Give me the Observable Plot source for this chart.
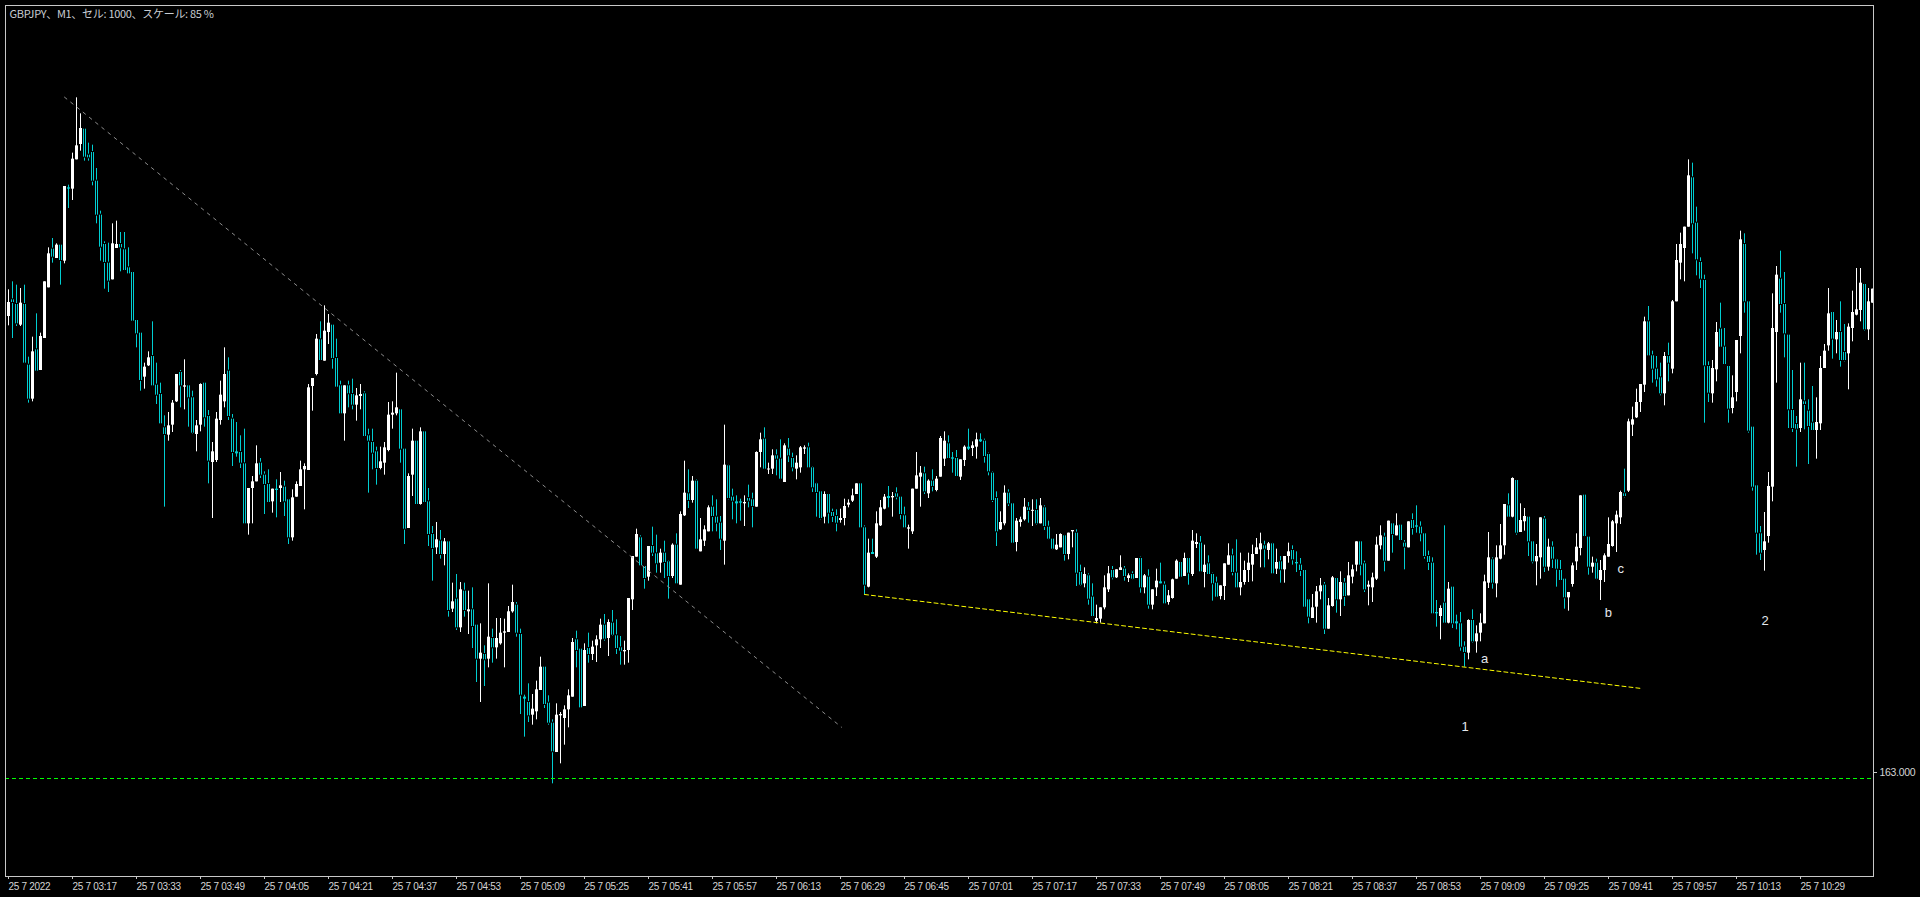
<!DOCTYPE html>
<html><head><meta charset="utf-8">
<script src="https://cdn.jsdelivr.net/npm/d3@7"></script>
<script src="https://cdn.jsdelivr.net/npm/@observablehq/plot@0.6"></script>
<style>
html,body{margin:0;padding:0;background:#000;overflow:hidden}
svg text{letter-spacing:-0.3px}
</style>
</head><body><div id="chart"></div>
<script>
// ---- M1 candles, GBPJPY, 25 Jul 2022 from 03:01 (one bar per minute) ----
const openP = [
163.693,163.718,163.711,163.680,163.711,163.620,163.569,163.643,163.612,163.660,
163.736,163.794,163.780,163.800,163.776,163.886,163.884,163.928,163.951,163.974,
163.935,163.939,163.896,163.845,163.801,163.773,163.748,163.795,163.801,163.793,
163.766,163.759,163.687,163.668,163.602,163.619,163.633,163.590,163.576,163.526,
163.515,163.530,163.565,163.609,163.587,163.589,163.571,163.516,163.530,163.593,
163.543,163.474,163.477,163.537,163.565,163.611,163.539,163.490,163.489,163.472,
163.382,163.435,163.445,163.473,163.455,163.441,163.415,163.434,163.435,163.437,
163.418,163.361,163.422,163.438,163.463,163.462,163.588,163.606,163.658,163.626,
163.669,163.680,163.630,163.589,163.547,163.589,163.576,163.560,163.573,163.577,
163.514,163.504,163.490,163.465,163.473,163.492,163.545,163.547,163.553,163.494,
163.375,163.455,163.506,163.411,163.520,163.415,163.366,163.346,163.356,163.336,
163.355,163.254,163.269,163.226,163.281,163.250,163.253,163.230,163.179,163.186,
163.179,163.210,163.196,163.202,163.218,163.219,163.250,163.260,163.216,163.122,
163.114,163.095,163.100,163.132,163.167,163.113,163.083,163.039,163.094,163.090,
163.103,163.122,163.208,163.194,163.108,163.195,163.186,163.199,163.208,163.230,
163.210,163.233,163.214,163.196,163.190,163.192,163.268,163.332,163.361,163.318,
163.302,163.348,163.337,163.323,163.338,163.325,163.303,163.350,163.290,163.394,
163.427,163.417,163.446,163.340,163.356,163.370,163.407,163.392,163.383,163.356,
163.469,163.422,163.415,163.415,163.412,163.420,163.418,163.407,163.489,163.509,
163.463,163.464,163.484,163.479,163.444,163.494,163.480,163.464,163.466,163.494,
163.496,163.466,163.442,163.430,163.392,163.426,163.399,163.393,163.387,163.390,
163.410,163.416,163.426,163.442,163.376,163.287,163.339,163.332,163.379,163.404,
163.423,163.421,163.427,163.422,163.394,163.374,163.370,163.434,163.452,163.457,
163.427,163.446,163.432,163.452,163.479,163.502,163.481,163.480,163.452,163.477,
163.497,163.495,163.497,163.508,163.506,163.486,163.458,163.420,163.373,163.382,
163.428,163.412,163.354,163.384,163.388,163.406,163.401,163.402,163.382,163.406,
163.377,163.359,163.343,163.346,163.364,163.336,163.370,163.368,163.309,163.292,
163.304,163.272,163.236,163.239,163.256,163.283,163.312,163.301,163.312,163.314,
163.300,163.306,163.300,163.330,163.286,163.302,163.260,163.286,163.295,163.290,
163.264,163.270,163.299,163.324,163.303,163.330,163.306,163.351,163.353,163.309,
163.322,163.306,163.293,163.273,163.288,163.320,163.334,163.308,163.286,163.294,
163.312,163.320,163.336,163.343,163.349,163.342,163.352,163.314,163.325,163.313,
163.333,163.342,163.324,163.320,163.312,163.268,163.240,163.257,163.280,163.290,
163.224,163.258,163.300,163.268,163.293,163.274,163.302,163.320,163.355,163.322,
163.287,163.286,163.299,163.349,163.362,163.326,163.382,163.364,163.380,163.353,
163.346,163.387,163.379,163.377,163.367,163.333,163.323,163.249,163.243,163.263,
163.233,163.287,163.235,163.232,163.197,163.188,163.237,163.205,163.218,163.232,
163.293,163.328,163.292,163.329,163.349,163.409,163.392,163.447,163.369,163.385,
163.392,163.355,163.325,163.331,163.389,163.317,163.347,163.328,163.312,163.299,
163.271,163.291,163.325,163.345,163.425,163.362,163.317,163.323,163.297,163.312,
163.332,163.348,163.382,163.391,163.427,163.431,163.530,163.541,163.564,163.590,
163.685,163.634,163.614,163.601,163.577,163.633,163.614,163.715,163.773,163.795,
163.827,163.901,163.833,163.774,163.747,163.618,163.577,163.613,163.674,163.647,
163.618,163.555,163.579,163.663,163.801,163.715,163.527,163.439,163.367,163.342,
163.363,163.437,163.669,163.749,163.711,163.665,163.552,163.531,163.525,163.565,
163.551,163.533,163.522,163.532,163.615,163.649,163.699,163.658,163.669,163.639,
163.637,163.675,163.695,163.702,163.741,163.673,163.713];

const highP = [
163.733,163.745,163.740,163.735,163.740,163.632,163.662,163.697,163.668,163.745,
163.796,163.810,163.802,163.800,163.888,163.890,163.938,164.021,163.997,163.974,
163.953,163.950,163.915,163.851,163.805,163.803,163.832,163.836,163.819,163.819,
163.796,163.759,163.687,163.668,163.623,163.640,163.685,163.623,163.593,163.544,
163.549,163.567,163.606,163.612,163.628,163.589,163.581,163.537,163.592,163.593,
163.552,163.504,163.549,163.596,163.646,163.631,163.546,163.534,163.514,163.524,
163.435,163.453,163.499,163.480,163.460,163.463,163.434,163.448,163.459,163.446,
163.418,163.433,163.445,163.476,163.472,163.591,163.600,163.666,163.685,163.709,
163.696,163.680,163.659,163.596,163.589,163.596,163.599,163.585,163.591,163.580,
163.524,163.524,163.497,163.497,163.504,163.564,163.565,163.608,163.553,163.494,
163.457,163.524,163.506,163.526,163.520,163.435,163.378,163.384,163.372,163.360,
163.355,163.293,163.306,163.294,163.293,163.281,163.286,163.230,163.232,163.199,
163.292,163.224,163.240,163.240,163.239,163.258,163.290,163.264,163.224,163.125,
163.142,163.126,163.146,163.182,163.167,163.124,163.088,163.112,163.099,163.109,
163.133,163.210,163.221,163.194,163.202,163.218,163.206,163.214,163.239,163.246,
163.238,163.252,163.238,163.213,163.206,163.270,163.333,163.374,163.364,163.318,
163.348,163.377,163.365,163.344,163.356,163.327,163.352,163.367,163.400,163.476,
163.463,163.453,163.448,163.390,163.379,163.409,163.424,163.418,163.393,163.530,
163.470,163.434,163.424,163.419,163.424,163.440,163.428,163.490,163.518,163.526,
163.473,163.493,163.493,163.508,163.502,163.510,163.488,163.484,163.498,163.499,
163.503,163.468,163.443,163.430,163.430,163.426,163.404,163.403,163.404,163.419,
163.418,163.434,163.442,163.442,163.379,163.359,163.359,163.400,163.417,163.426,
163.438,163.429,163.436,163.422,163.407,163.380,163.434,163.489,163.468,163.467,
163.448,163.463,163.453,163.513,163.520,163.514,163.489,163.492,163.478,163.499,
163.524,163.505,163.518,163.517,163.509,163.488,163.460,163.430,163.400,163.439,
163.433,163.412,163.390,163.392,163.420,163.414,163.418,163.418,163.420,163.409,
163.386,163.360,163.366,163.367,163.364,163.368,163.372,163.373,163.320,163.316,
163.307,163.292,163.260,163.256,163.304,163.318,163.318,163.313,163.334,163.318,
163.307,163.310,163.330,163.332,163.306,163.313,163.283,163.314,163.323,163.295,
163.282,163.299,163.328,163.324,163.338,163.330,163.372,163.367,163.363,163.350,
163.334,163.308,163.302,163.289,163.322,163.352,163.344,163.358,163.338,163.326,
163.338,163.350,163.360,163.368,163.356,163.354,163.353,163.344,163.333,163.333,
163.353,163.349,163.340,163.330,163.312,163.268,163.276,163.288,163.300,163.294,
163.270,163.303,163.300,163.310,163.300,163.324,163.320,163.355,163.355,163.326,
163.296,163.308,163.362,163.379,163.368,163.386,163.382,163.397,163.380,163.357,
163.385,163.397,163.409,163.385,163.367,163.341,163.331,163.267,163.259,163.379,
163.294,163.287,163.245,163.249,163.205,163.238,163.253,163.229,163.247,163.305,
163.369,163.331,163.349,163.381,163.411,163.427,163.451,163.447,163.412,163.405,
163.392,163.355,163.351,163.391,163.393,163.359,163.355,163.329,163.327,163.299,
163.279,163.323,163.367,163.424,163.425,163.362,163.332,163.329,163.327,163.337,
163.391,163.387,163.401,163.431,163.464,163.539,163.557,163.584,163.591,163.692,
163.708,163.641,163.633,163.623,163.639,163.653,163.717,163.801,163.818,163.827,
163.928,163.923,163.857,163.781,163.755,163.625,163.627,163.684,163.713,163.675,
163.618,163.604,163.657,163.821,163.817,163.715,163.527,163.439,163.378,163.399,
163.459,163.727,163.768,163.791,163.759,163.665,163.612,163.543,163.623,163.623,
163.568,163.588,163.571,163.633,163.651,163.735,163.699,163.687,163.715,163.681,
163.682,163.731,163.765,163.765,163.741,163.735,163.734];

const lowP = [
163.679,163.660,163.678,163.678,163.623,163.563,163.565,163.611,163.612,163.660,
163.736,163.773,163.780,163.740,163.772,163.855,163.867,163.928,163.941,163.926,
163.926,163.889,163.832,163.776,163.734,163.729,163.748,163.795,163.760,163.762,
163.757,163.686,163.646,163.581,163.584,163.618,163.589,163.561,163.532,163.407,
163.506,163.519,163.564,163.556,163.553,163.527,163.516,163.490,163.520,163.527,
163.442,163.390,163.474,163.530,163.556,163.537,163.468,163.482,163.465,163.382,
163.365,163.382,163.445,163.450,163.396,163.413,163.398,163.391,163.414,163.393,
163.351,163.356,163.422,163.438,163.403,163.462,163.551,163.604,163.627,163.626,
163.651,163.614,163.587,163.547,163.506,163.556,163.553,163.536,163.553,163.513,
163.428,163.463,163.440,163.463,163.455,163.490,163.524,163.544,163.473,163.351,
163.375,163.423,163.411,163.410,163.414,163.348,163.296,163.336,163.329,163.319,
163.242,163.249,163.222,163.219,163.242,163.216,163.195,163.144,163.114,163.138,
163.166,163.173,163.179,163.200,163.166,163.219,163.248,163.212,163.096,163.062,
163.084,163.080,163.088,163.132,163.105,163.080,162.992,163.039,163.022,163.050,
163.076,163.122,163.166,163.106,163.108,163.173,163.177,163.174,163.195,163.206,
163.183,163.213,163.186,163.170,163.170,163.173,163.252,163.332,163.319,163.284,
163.296,163.333,163.308,163.308,163.300,163.269,163.300,163.292,163.290,163.393,
163.405,163.413,163.344,163.340,163.348,163.370,163.370,163.370,163.342,163.320,
163.418,163.388,163.382,163.386,163.378,163.406,163.376,163.407,163.466,163.464,
163.456,163.456,163.454,163.449,163.444,163.474,163.460,163.448,163.458,163.486,
163.466,163.429,163.392,163.388,163.382,163.382,163.384,163.370,163.383,163.379,
163.406,163.414,163.426,163.376,163.276,163.286,163.336,163.330,163.378,163.403,
163.406,163.392,163.418,163.388,163.376,163.344,163.366,163.434,163.407,163.426,
163.420,163.430,163.430,163.452,163.468,163.480,163.458,163.453,163.447,163.468,
163.492,163.483,163.479,163.504,163.473,163.454,163.414,163.348,163.372,163.379,
163.408,163.353,163.340,163.377,163.386,163.383,163.378,163.380,163.382,163.372,
163.358,163.343,163.342,163.346,163.326,163.328,163.346,163.288,163.288,163.286,
163.260,163.243,163.232,163.233,163.253,163.279,163.298,163.300,163.312,163.296,
163.294,163.298,163.300,163.278,163.277,163.254,163.253,163.273,163.292,163.262,
163.260,163.269,163.299,163.302,163.303,163.290,163.303,163.345,163.310,163.286,
163.306,163.266,163.272,163.268,163.267,163.320,163.304,163.286,163.274,163.290,
163.294,163.295,163.336,163.316,163.316,163.328,163.306,163.306,163.293,163.293,
163.323,163.320,163.309,163.303,163.257,163.232,163.240,163.233,163.268,163.216,
163.224,163.257,163.248,163.243,163.258,163.274,163.292,163.310,163.304,163.279,
163.259,163.264,163.297,163.343,163.310,163.326,163.338,163.364,163.357,163.313,
163.346,163.365,163.368,163.355,163.329,163.312,163.247,163.227,163.208,163.233,
163.232,163.225,163.223,163.191,163.167,163.178,163.203,163.188,163.205,163.232,
163.285,163.284,163.271,163.328,163.335,163.392,163.391,163.365,163.369,163.371,
163.333,163.322,163.289,163.299,163.309,163.311,163.315,163.287,163.297,163.254,
163.251,163.287,163.312,163.334,163.362,163.305,163.308,163.298,163.267,163.294,
163.332,163.347,163.339,163.381,163.421,163.429,163.513,163.540,163.549,163.579,
163.634,163.593,163.587,163.574,163.559,163.595,163.607,163.715,163.748,163.745,
163.827,163.787,163.754,163.735,163.533,163.564,163.563,163.595,163.647,163.621,
163.533,163.547,163.565,163.637,163.698,163.518,163.431,163.335,163.327,163.311,
163.353,163.415,163.593,163.698,163.631,163.525,163.519,163.467,163.519,163.523,
163.471,163.522,163.479,163.522,163.615,163.641,163.629,163.637,163.617,163.625,
163.583,163.655,163.694,163.685,163.671,163.657,163.713];

const closeP = [
163.714,163.714,163.682,163.713,163.623,163.569,163.640,163.611,163.663,163.745,
163.787,163.782,163.800,163.777,163.888,163.884,163.929,163.949,163.975,163.932,
163.931,163.896,163.845,163.797,163.774,163.746,163.802,163.801,163.796,163.762,
163.757,163.686,163.667,163.597,163.617,163.631,163.589,163.575,163.532,163.516,
163.529,163.563,163.606,163.589,163.589,163.571,163.518,163.529,163.591,163.541,
163.476,163.490,163.539,163.575,163.606,163.543,163.489,163.487,163.473,163.382,
163.435,163.445,163.472,163.455,163.441,163.414,163.434,163.432,163.439,163.415,
163.361,163.421,163.441,163.463,163.468,163.586,163.600,163.659,163.627,163.671,
163.683,163.630,163.587,163.547,163.589,163.577,163.560,163.574,163.576,163.513,
163.506,163.488,163.465,163.475,163.496,163.545,163.548,163.556,163.494,163.374,
163.453,163.506,163.411,163.520,163.414,163.366,163.345,163.358,163.336,163.355,
163.252,163.265,163.226,163.283,163.252,163.253,163.228,163.179,163.188,163.178,
163.212,163.196,163.210,163.218,163.220,163.250,163.264,163.218,163.125,163.119,
163.094,163.104,163.133,163.167,163.111,163.083,163.040,163.095,163.096,163.103,
163.124,163.204,163.192,163.106,163.192,163.186,163.197,163.208,163.230,163.209,
163.234,163.215,163.195,163.191,163.192,163.270,163.333,163.366,163.319,163.300,
163.348,163.338,163.322,163.338,163.324,163.303,163.350,163.292,163.396,163.428,
163.417,163.446,163.344,163.358,163.373,163.406,163.393,163.383,163.359,163.470,
163.420,163.416,163.412,163.413,163.414,163.416,163.408,163.489,163.508,163.464,
163.464,163.484,163.479,163.449,163.499,163.484,163.466,163.473,163.496,163.496,
163.466,163.436,163.429,163.390,163.426,163.398,163.393,163.383,163.390,163.408,
163.413,163.424,163.442,163.376,163.290,163.338,163.336,163.382,163.406,163.422,
163.420,163.423,163.422,163.396,163.376,163.376,163.434,163.454,163.458,163.430,
163.446,163.438,163.449,163.510,163.506,163.480,163.479,163.453,163.478,163.497,
163.494,163.499,163.508,163.505,163.483,163.460,163.417,163.370,163.384,163.428,
163.412,163.353,163.386,163.388,163.407,163.402,163.402,163.382,163.409,163.378,
163.359,163.344,163.350,163.366,163.336,163.368,163.372,163.308,163.290,163.306,
163.269,163.243,163.240,163.256,163.286,163.307,163.301,163.313,163.316,163.303,
163.304,163.299,163.330,163.286,163.304,163.260,163.283,163.296,163.292,163.262,
163.274,163.298,163.326,163.302,163.330,163.308,163.356,163.354,163.310,163.320,
163.306,163.292,163.272,163.289,163.322,163.334,163.309,163.286,163.294,163.312,
163.323,163.336,163.346,163.352,163.344,163.352,163.307,163.324,163.313,163.333,
163.340,163.328,163.322,163.312,163.257,163.242,163.256,163.280,163.289,163.224,
163.259,163.301,163.268,163.294,163.273,163.304,163.313,163.355,163.320,163.283,
163.290,163.301,163.350,163.364,163.326,163.386,163.366,163.379,163.357,163.347,
163.385,163.375,163.377,163.367,163.333,163.324,163.247,163.247,163.255,163.233,
163.284,163.232,163.232,163.197,163.189,163.237,163.205,163.217,163.233,163.295,
163.331,163.293,163.331,163.349,163.411,163.392,163.450,163.368,163.387,163.393,
163.355,163.325,163.333,163.391,163.317,163.347,163.329,163.314,163.297,163.271,
163.279,163.319,163.347,163.424,163.363,163.317,163.323,163.299,163.312,163.334,
163.351,163.385,163.395,163.429,163.423,163.535,163.538,163.564,163.591,163.685,
163.634,163.614,163.598,163.577,163.633,163.623,163.715,163.777,163.801,163.827,
163.904,163.832,163.778,163.749,163.619,163.578,163.615,163.669,163.647,163.621,
163.554,163.571,163.657,163.808,163.715,163.521,163.437,163.368,163.338,163.355,
163.438,163.675,163.755,163.711,163.667,163.553,163.525,163.524,163.568,163.561,
163.528,163.522,163.534,163.615,163.641,163.697,163.659,163.669,163.627,163.627,
163.677,163.699,163.703,163.743,163.673,163.715,163.734];

// ---- time axis ----
const tickBars = [0,16,32,48,64,80,96,112,128,144,160,176,192,208,224,240,256,272,288,304,320,336,352,368,384,400,416,432,448];
const tickLabels = ["25 7 2022","25 7 03:17","25 7 03:33","25 7 03:49","25 7 04:05","25 7 04:21","25 7 04:37","25 7 04:53","25 7 05:09","25 7 05:25","25 7 05:41","25 7 05:57","25 7 06:13","25 7 06:29","25 7 06:45","25 7 07:01","25 7 07:17","25 7 07:33","25 7 07:49","25 7 08:05","25 7 08:21","25 7 08:37","25 7 08:53","25 7 09:09","25 7 09:25","25 7 09:41","25 7 09:57","25 7 10:13","25 7 10:29"];

// ---- drawn objects ----
const levelPrice = [163.000];
const trendBars = [14, 208.25];
const trendPrices = [164.022, 163.077];
const supportBars = [214, 408.25];
const supportPrices = [163.276, 163.135];
const waveText = ["1","a","b","c","2"];
const waveBars = [364.1, 369, 399.9, 403, 439.1];
const wavePrices = [163.077, 163.180, 163.249, 163.314, 163.236];
const title = "GBPJPY、M1、セル: 1000、スケール: 85 %";

// ---- build ----
const BULL = "#ffffff", BEAR = "#00ced1";
const onePx = 0.0015; // price per pixel at this scale
const bars = openP.map((o, i) => {
  const c = closeP[i];
  let top = Math.max(o, c), bot = Math.min(o, c);
  if (top - bot < onePx) { const m = (top + bot) / 2; top = m + onePx / 2; bot = m - onePx / 2; }
  return {i, up: c >= o, hi: Math.max(highP[i], top), lo: Math.min(lowP[i], bot), top, bot};
});
const bulls = bars.filter(d => d.up), bears = bars.filter(d => !d.up);
const bearInner = bears.filter(d => d.top - d.bot > 2.5 * onePx);
const trend = trendBars.map((b, k) => ({b, p: trendPrices[k]}));
const support = supportBars.map((b, k) => ({b, p: supportPrices[k]}));
const waves = waveText.map((t, k) => ({t, b: waveBars[k], p: wavePrices[k]}));

const chart = Plot.plot({
  width: 1920, height: 897,
  marginLeft: 5, marginRight: 47, marginTop: 5, marginBottom: 21,
  style: {background: "#000", color: "#d0d0d0", fontFamily: "'Liberation Sans', Arial, sans-serif", fontSize: "10px"},
  x: {type: "linear", domain: [-0.75, 466.25]},
  y: {type: "linear", domain: [162.853, 164.1595]},
  marks: [
    Plot.ruleX(bulls, {x: "i", y1: "lo", y2: "hi", stroke: BULL, strokeWidth: 1}),
    Plot.ruleX(bears, {x: "i", y1: "lo", y2: "hi", stroke: BEAR, strokeWidth: 1}),
    Plot.ruleX(bulls, {x: "i", y1: "bot", y2: "top", stroke: BULL, strokeWidth: 3}),
    Plot.ruleX(bears, {x: "i", y1: "bot", y2: "top", stroke: BEAR, strokeWidth: 3}),
    Plot.ruleX(bearInner, {x: "i", y1: "bot", y2: "top", stroke: "#000", strokeWidth: 1, insetTop: 1, insetBottom: 1}),
    Plot.ruleY(levelPrice, {stroke: "#00ff00", strokeWidth: 1, strokeDasharray: "4,3"}),
    Plot.line(trend, {x: "b", y: "p", stroke: "#8c8c8c", strokeWidth: 1, strokeDasharray: "3,5"}),
    Plot.line(support, {x: "b", y: "p", stroke: "#ffff00", strokeWidth: 1, strokeDasharray: "4,3"}),
    Plot.text(waves, {x: "b", y: "p", text: "t", fill: "#e4e8ee", fontSize: 13, fontFamily: "'Liberation Sans', Arial, sans-serif"}),
    Plot.frame({stroke: "#c8c8c8"}),
    Plot.axisX({ticks: tickBars, tickFormat: d => tickLabels[tickBars.indexOf(d)], tickSize: 3, tickPadding: 3, textAnchor: "start", stroke: "#c8c8c8", fill: "#d4d4d4", fontSize: 10}),
    Plot.axisY({anchor: "right", ticks: levelPrice, tickFormat: d => d.toFixed(3), tickSize: 3, tickPadding: 3, dy: -6, stroke: "#c8c8c8", fill: "#d4d4d4", fontSize: 10.5}),
    Plot.text([title], {frameAnchor: "top-left", dx: 4, dy: 5, fill: "#c8ccd2", fontSize: 11, fontFamily: "'Noto Sans CJK JP', sans-serif"})
  ]
});
document.getElementById("chart").appendChild(chart);
</script>
</body></html>
